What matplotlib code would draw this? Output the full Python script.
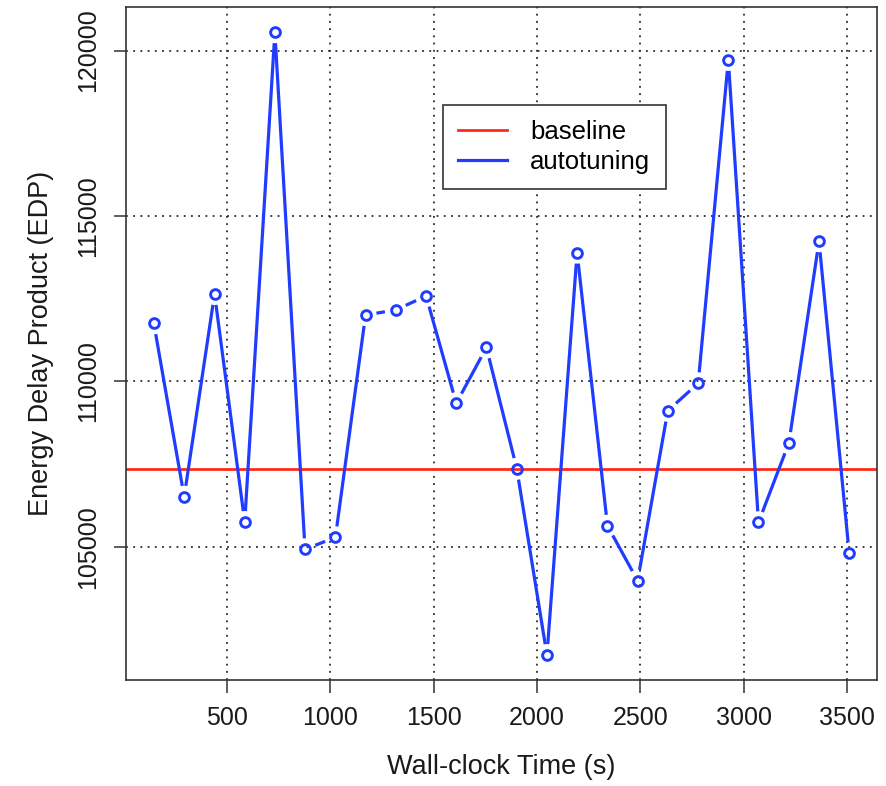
import numpy as np
import matplotlib
matplotlib.use("Agg")
import matplotlib.pyplot as plt
from matplotlib.lines import Line2D

plt.rcParams["font.family"] = ["Liberation Sans", "DejaVu Sans"]

# wall-clock time of each tuning step (s) and the EDP measured there
wall_time = [145, 292, 439, 585, 731, 877, 1024, 1170, 1316, 1463, 1609, 1755,
             1902, 2048, 2194, 2341, 2487, 2633, 2780, 2926, 3072, 3219, 3365, 3511]
edp = [111757, 106513, 112643, 105748, 120556, 104923, 105286, 112008,
       112159, 112582, 109338, 111025, 107360, 101726, 113892, 105636,
       103973, 109114, 109942, 119719, 105739, 108137, 114236, 104802]
baseline_edp = 107350

x_ticks = [500, 1000, 1500, 2000, 2500, 3000, 3500]
y_ticks = [105000, 110000, 115000, 120000]

blue = "#1f3cff"
red = "#ff2a1a"

W, H = 886, 786
fig = plt.figure(figsize=(W / 100, H / 100), dpi=100)
ax = fig.add_axes([126 / W, 1 - 680 / H, (877 - 126) / W, (680 - 7.3) / H])

# R-style limits: data range padded by 4% on each side
def pad(vals):
    lo, hi = min(vals), max(vals)
    r = hi - lo
    return lo - 0.04 * r, hi + 0.04 * r

ax.set_xlim(*pad(wall_time))
ax.set_ylim(*pad(edp))

ax.set_xticks(x_ticks)
ax.set_yticks(y_ticks)
ax.set_xticklabels([str(t) for t in x_ticks])
ax.set_yticklabels([str(t) for t in y_ticks], rotation=90, va="center")
ax.tick_params(axis="both", length=9, width=1.1, color="#333333",
               labelsize=18, labelcolor="#1a1a1a")
ax.tick_params(axis="x", pad=10)
ax.tick_params(axis="y", pad=9.5)

for s in ax.spines.values():
    s.set_color("#333333")
    s.set_linewidth(1.2)

ax.grid(True, color="#2a2a2a", linestyle=(0, (1, 3)), linewidth=1.3)
ax.set_axisbelow(True)

# baseline across the full width
ax.axhline(baseline_edp, color=red, linewidth=2.0, zorder=2)

# type="b": segments stop short of each point marker
gap = 11.0
pts = ax.transData.transform(np.column_stack([wall_time, edp]))
inv = ax.transData.inverted()
for p0, p1 in zip(pts[:-1], pts[1:]):
    d = p1 - p0
    L = np.hypot(*d)
    if L <= 2 * gap:
        continue
    u = d / L
    seg = inv.transform(np.vstack([p0 + u * gap, p1 - u * gap]))
    ax.plot(seg[:, 0], seg[:, 1], color=blue, linewidth=2.3,
            solid_capstyle="butt", zorder=3)

ax.plot(wall_time, edp, linestyle="none", marker="o", markersize=7,
        markerfacecolor="none", markeredgecolor=blue, markeredgewidth=2.1,
        zorder=4)

ax.set_xlabel("Wall-clock Time (s)", fontsize=19.5, labelpad=17, color="#1a1a1a")
ax.set_ylabel("Energy Delay Product (EDP)", fontsize=19.5, labelpad=16, color="#1a1a1a")

handles = [Line2D([], [], color=red, linewidth=2.0),
           Line2D([], [], color=blue, linewidth=2.3)]
leg = ax.legend(handles, ["baseline", "autotuning"],
                loc="upper left",
                bbox_to_anchor=((443 - 126) / (877 - 126), (680 - 105) / (680 - 7.3)),
                borderaxespad=0, fontsize=18.5, frameon=True, fancybox=False,
                borderpad=0.6, handlelength=1.9, handletextpad=0.9,
                labelspacing=0.2)
leg.get_frame().set_edgecolor("#333333")
leg.get_frame().set_linewidth(1.2)
leg.get_frame().set_alpha(1.0)

fig.savefig("out.png", dpi=100)
